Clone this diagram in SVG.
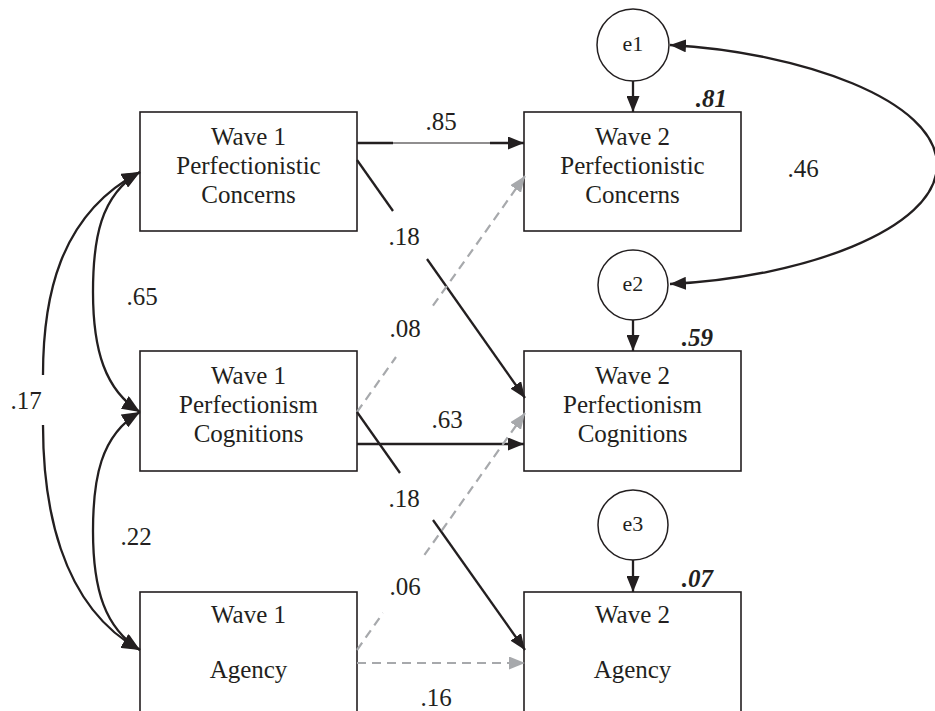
<svg xmlns="http://www.w3.org/2000/svg" width="935" height="711" viewBox="0 0 935 711">
<style>
.box{fill:#fff;stroke:#231f20;stroke-width:1.6}
.circ{fill:#fff;stroke:#231f20;stroke-width:1.5}
.t{font-family:"Liberation Serif","Times New Roman",serif;font-size:25px;fill:#231f20;text-anchor:middle}
.e{font-family:"Liberation Serif","Times New Roman",serif;font-size:22px;fill:#231f20;text-anchor:middle}
.r2{font-family:"Liberation Serif","Times New Roman",serif;font-size:25px;font-weight:bold;font-style:italic;fill:#231f20;text-anchor:end}
.blk{fill:none;stroke:#231f20;stroke-width:2.3}
.thin{fill:none;stroke:#231f20;stroke-width:1.1}
.gry{fill:none;stroke:#a7a9ac;stroke-width:2.2;stroke-dasharray:9 6}
</style>
<defs>
<marker id="ab" viewBox="0 0 16 13" refX="16" refY="6.5" markerWidth="16" markerHeight="13" markerUnits="userSpaceOnUse" orient="auto-start-reverse"><path d="M0,0 L16,6.5 L0,13 z" fill="#231f20"/></marker>
<marker id="ag" viewBox="0 0 16 13" refX="16" refY="6.5" markerWidth="16" markerHeight="13" markerUnits="userSpaceOnUse" orient="auto-start-reverse"><path d="M0,0 L16,6.5 L0,13 z" fill="#a7a9ac"/></marker>
<marker id="al" viewBox="0 0 18 15" refX="18" refY="7.5" markerWidth="18" markerHeight="15" markerUnits="userSpaceOnUse" orient="auto-start-reverse"><path d="M0,0 L18,7.5 L0,15 z" fill="#231f20"/></marker>
</defs>

<g id="n-w1pc"><rect class="box" x="140" y="112" width="217" height="119"/>
<text class="t" x="248.5" y="145">Wave 1</text><text class="t" x="248.5" y="174">Perfectionistic</text><text class="t" x="248.5" y="203">Concerns</text></g>
<g id="n-w1cog"><rect class="box" x="140" y="351" width="217" height="120"/>
<text class="t" x="248.5" y="384">Wave 1</text><text class="t" x="248.5" y="413">Perfectionism</text><text class="t" x="248.5" y="442">Cognitions</text></g>
<g id="n-w1ag"><rect class="box" x="140" y="592" width="217" height="130"/>
<text class="t" x="248.5" y="623">Wave 1</text><text class="t" x="248.5" y="678">Agency</text></g>

<g id="n-w2pc"><rect class="box" x="524" y="112" width="217" height="119"/>
<text class="t" x="632.5" y="145">Wave 2</text><text class="t" x="632.5" y="174">Perfectionistic</text><text class="t" x="632.5" y="203">Concerns</text>
<text class="r2" x="727" y="107">.81</text></g>
<g id="n-w2cog"><rect class="box" x="524" y="351" width="217" height="120"/>
<text class="t" x="632.5" y="384">Wave 2</text><text class="t" x="632.5" y="413">Perfectionism</text><text class="t" x="632.5" y="442">Cognitions</text>
<text class="r2" x="713" y="346">.59</text></g>
<g id="n-w2ag"><rect class="box" x="524" y="592" width="217" height="130"/>
<text class="t" x="632.5" y="623">Wave 2</text><text class="t" x="632.5" y="678">Agency</text>
<text class="r2" x="713" y="587">.07</text></g>

<g id="n-e1"><circle class="circ" cx="633" cy="45" r="36"/><text class="e" x="633" y="51">e1</text></g>
<g id="n-e2"><circle class="circ" cx="633" cy="285" r="35"/><text class="e" x="633" y="291">e2</text></g>
<g id="n-e3"><circle class="circ" cx="633" cy="525" r="35"/><text class="e" x="633" y="531">e3</text></g>

<g id="connectors">
<path class="blk" d="M633,81 L633,112" marker-end="url(#ab)"/>
<path class="blk" d="M633,320 L633,351" marker-end="url(#ab)"/>
<path class="blk" d="M633,560 L633,592" marker-end="url(#ab)"/>
<path class="blk" d="M670,45 C800,52 937,100 937,165 C937,230 800,278 670,284" marker-start="url(#ab)" marker-end="url(#ab)"/>
<text class="t" x="803" y="177">.46</text>
<path class="blk" d="M140,172 C100,195 93,240 93,292 C93,350 105,390 140,412" marker-start="url(#al)" marker-end="url(#al)"/>
<text class="t" x="142" y="305">.65</text>
<path class="blk" d="M140,412 C100,435 93,480 93,531 C93,590 105,628 140,650" marker-start="url(#al)" marker-end="url(#al)"/>
<text class="t" x="136" y="545">.22</text>
<path class="blk" d="M43,375 C43,300 58,215 140,172" marker-end="url(#al)"/>
<path class="blk" d="M43,425 C43,500 58,605 140,650" marker-end="url(#al)"/>
<text class="t" x="26" y="409">.17</text>
<path class="thin" d="M357,143 L512,143"/>
<path class="blk" d="M357,143 L393,143"/>
<path class="blk" d="M490,143 L524,143" marker-end="url(#ab)"/>
<text class="t" x="441" y="130">.85</text>
<path class="blk" d="M357,160 L393,211"/>
<path class="blk" d="M427,259 L525,398" marker-end="url(#ab)"/>
<text class="t" x="404" y="245">.18</text>
<path class="gry" d="M525,176 L432,307"/>
<path class="gry" d="M357,412 L396,357"/>
<path d="M510,197 L525,176" stroke="none" marker-end="url(#ag)"/>
<text class="t" x="405" y="337">.08</text>
<path class="blk" d="M357,444 L524,444" marker-end="url(#ab)"/>
<text class="t" x="447" y="428">.63</text>
<path class="blk" d="M357,412 L400,473"/>
<path class="blk" d="M433,520 L525,650" marker-end="url(#ab)"/>
<text class="t" x="404" y="507">.18</text>
<path class="gry" d="M525,413 L423,557"/>
<path class="gry" d="M357,650 L383,613"/>
<path d="M510,434 L525,413" stroke="none" marker-end="url(#ag)"/>
<text class="t" x="405" y="595">.06</text>
<path class="gry" d="M357,663 L510,663"/>
<path d="M500,663 L525,663" stroke="none" marker-end="url(#ag)"/>
<text class="t" x="436" y="706">.16</text>
</g>
</svg>
